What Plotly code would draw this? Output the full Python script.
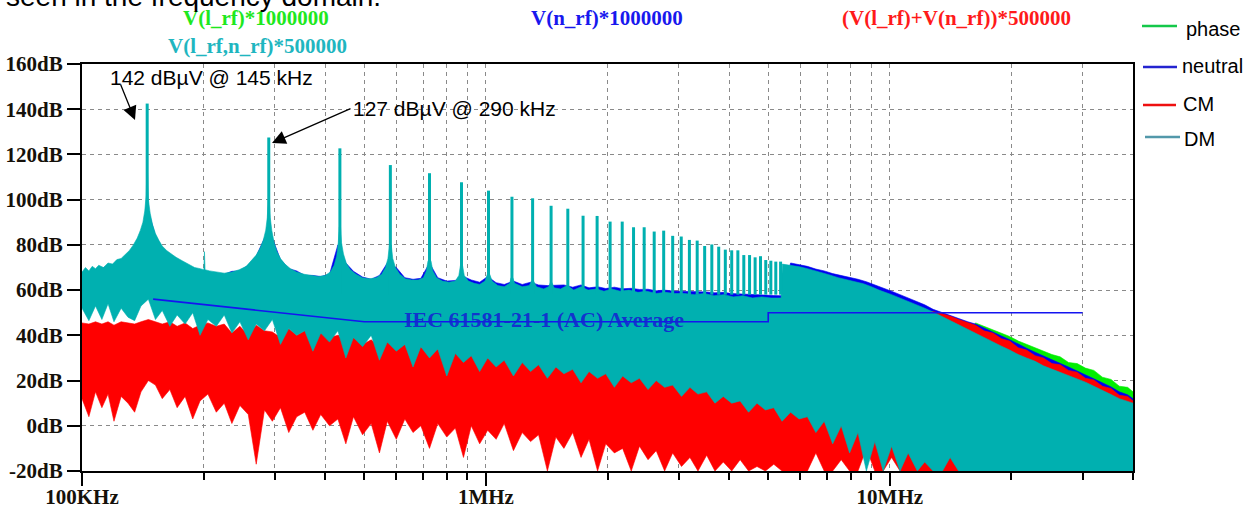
import math
import plotly.graph_objects as go

# ---------------- data (frequencies in kHz, levels in dB(uV)) ----------------
# shared frequency grid for the lower edges / side traces
GRID_KHZ = [
    100, 104, 108, 112, 116, 120, 125, 130, 135, 140,
    146, 152, 158, 165, 172, 180, 188, 196, 205, 215,
    225, 235, 246, 258, 270, 283, 296, 310, 325, 340,
    356, 373, 390, 410, 430, 450, 470, 495, 520, 545,
    570, 600, 630, 660, 690, 725, 760, 800, 840, 880,
    920, 965, 1010, 1060, 1110, 1170, 1230, 1290, 1350, 1420,
    1490, 1560, 1640, 1720, 1800, 1890, 1980, 2080, 2180, 2290,
    2400, 2520, 2640, 2770, 2900, 3050, 3200, 3350, 3520, 3690,
    3870, 4060, 4260, 4470, 4690, 4920, 5160, 5410, 5680, 5960,
    6250, 6560, 6880, 7220, 7580, 7950, 8340, 8750, 9180, 9630,
    10100, 10600, 11100, 11700, 12200, 12800, 13500, 14100, 14800, 15600,
    16300, 17100, 18000, 18900, 19800, 20800, 21800, 22900, 24000, 25200,
    26400, 27700, 29100, 30500, 32000, 33600, 35300, 37000, 38800, 40000,
]

# DM (V(l_rf,n_rf)) : upper envelope (floor + skirts)
DM_UPPER = [
    (100, 68), (102, 70), (104, 68.5), (106, 70.5), (108, 69.5), (110, 71), (113, 70),
    (116, 72), (119, 71.5), (122, 73.5), (125, 74), (128, 76), (131, 77.5), (134, 80),
    (137, 83), (139.5, 86.5), (141.5, 90), (143, 95), (144.2, 102), (144.7, 112),
    (145.3, 112), (146, 100), (147.5, 94), (149.5, 89), (152, 85), (155, 82), (158, 79.5),
    (162, 77.5), (166, 76), (171, 74.5), (177, 73), (183, 71.5), (190, 70), (196, 69.5),
    (200.3, 69), (201, 77), (201.7, 69), (207, 68.5), (215, 68), (225, 67.5), (235, 68),
    (245, 69), (255, 70.5), (263, 73), (270, 75.5), (276, 78.5), (281, 82), (285, 86.5),
    (287.5, 92), (289.2, 100), (290.8, 100), (292.5, 92), (295, 86.5), (299, 81), (304, 77),
    (310, 74), (318, 71.5), (328, 69.5), (340, 68), (355, 67), (370, 66.5), (385, 66),
    (400, 66.5), (412, 68), (421, 71), (427, 75), (431, 81), (433.5, 88), (436.5, 88),
    (439, 81), (444, 76), (451, 72), (462, 69), (477, 67), (495, 65.5), (515, 65),
    (535, 65.5), (552, 67), (564, 70), (572, 74), (577, 80), (583, 80), (588, 74),
    (597, 70), (612, 67), (632, 65), (655, 64.5), (680, 64.5), (700, 65.5), (712, 68.5),
    (719, 73), (731, 73), (739, 68.5), (755, 65.5), (780, 64), (810, 63.5), (840, 64),
    (857, 66.5), (865, 71), (875, 71), (884, 66.5), (905, 64), (935, 63), (965, 62.5),
    (995, 64), (1008, 67), (1022, 67), (1036, 64), (1070, 62), (1110, 61.5), (1145, 63),
    (1154, 65.5), (1166, 65.5), (1178, 63), (1230, 61.5), (1280, 62), (1298, 64),
    (1312, 64), (1335, 61.5), (1390, 60.5), (1430, 61.5), (1445, 63.5), (1456, 63.5),
    (1475, 61), (1530, 60.5), (1590, 62), (1650, 60), (1720, 61.5), (1790, 60),
    (1880, 60.5), (1960, 59.5), (2050, 60.5), (2150, 59.5), (2260, 60), (2380, 59),
    (2500, 59.5), (2640, 58.5), (2780, 59), (2930, 58.5), (3100, 58.5), (3280, 58),
    (3470, 58.5), (3670, 57.5), (3880, 58), (4100, 57), (4330, 57.5), (4570, 56.5),
    (4820, 57), (5080, 56.5), (5380, 56.5), (5420, 71.5), (5700, 71), (5980, 70.3),
    (6250, 69.5), (6440, 68.9), (6750, 67.8), (7060, 66.8), (7450, 65.5), (7830, 64.5),
    (8200, 63.8), (8600, 62.8), (9000, 61.5), (9400, 60), (10100, 58), (10600, 56.5),
    (11100, 55), (11700, 53.5), (12200, 52), (12800, 50.3), (13500, 48.2), (14100, 46.5),
    (14800, 44.5), (15600, 42.5), (16300, 41), (17100, 39), (18000, 37), (18900, 35.2),
    (19800, 33.5), (20800, 31.5), (21800, 30), (22900, 28.5), (24000, 26.5), (25200, 25),
    (26400, 23.7), (27700, 22.3), (29100, 20.8), (30500, 19.3), (32000, 17.5),
    (33600, 15.8), (35300, 13.8), (37000, 12), (38800, 10.8), (40000, 10),
]

DM_LOWER = [
    52, 46.5, 53, 47, 54, 46, 52, 48, 46.5, 53,
    56, 47, 51, 44, 49, 45, 50, 40, 47, 44,
    49, 41, 46, 38, 45, 42, 47, 36, 43, 40,
    42, 33, 41, 37, 42, 30, 39, 35, 40, 29,
    37, 33, 36, 26, 35, 30, 34, 22, 32, 28,
    31, 24, 30, 26, 29, 22, 28, 24, 27, 21,
    26, 23, 25, 19, 24, 21, 23, 17, 22, 19,
    21, 16, 20, 17, 18, 13, 17, 14, 15, 10,
    13, 10, 11, 6, 10, 7, 8, 2, 6, 3,
    4, -3, 2, -8, 0, -12, -3, -20, -7, -20,
    -9, -20, -12, -20, -16, -20, -20, -14, -20, -20,
    -20, -20, -20, -20, -20, -20, -20, -20, -20, -20,
    -20, -20, -20, -20, -20, -20, -20, -20, -20, -20,
]

# harmonics of the 145 kHz switching frequency (DM peaks)
HARM_KHZ = [145, 290, 435, 580, 725, 870, 1015, 1160, 1305, 1450, 1595, 1740, 1885,
            2030, 2175, 2320, 2465, 2610, 2755, 2900, 3045, 3190, 3335, 3480, 3625,
            3770, 3915, 4060, 4205, 4350, 4495, 4640, 4785, 4930, 5075, 5220, 5365]
HARM_DB = [142.5, 127.5, 122.7, 115.3, 111.7, 107.7, 104, 101.3, 100.6, 97.3, 96, 92.9,
           92.8, 90.3, 90.3, 87.8, 87.8, 85.9, 86.3, 84, 83.7, 82.2, 81.9, 79.5, 80.2,
           79.2, 77.9, 77.6, 77.6, 75.5, 75.5, 74.5, 75, 73.3, 73, 72.6, 72.6]

# CM ((V(l_rf)+V(n_rf))/2)
CM_UPPER = [
    45.5, 45, 46, 45, 46, 44.5, 46, 45.5, 45, 46,
    47, 46, 45, 46, 44, 45.5, 43, 44.5, 45.5, 44,
    45, 41, 44, 40, 44.5, 42, 41.5, 39, 43, 40,
    42, 38, 41, 39, 40, 37, 39, 36, 38, 35,
    37, 35, 36, 33, 35, 32, 34, 31, 33, 30,
    32, 29, 30, 28, 30, 26, 29, 27, 28, 25,
    27, 25, 26, 23, 25, 22, 24, 21, 23, 20,
    22, 19, 21, 18, 20, 16, 19, 15, 17, 13,
    16, 12, 14, 10, 13, 9, 11, 8, 12, 10,
    40, 40, 42, 42, 44, 44, 45, 46, 47, 48,
    50, 50, 50.5, 50.5, 50.5, 50.5, 49.5, 48.5, 47, 45.5,
    44.5, 42, 41, 38.5, 37.5, 34.5, 33.5, 31, 30, 27.5,
    27, 24.5, 23.7, 21, 20.3, 17.5, 16.5, 13.5, 13, 11,
]
CM_LOWER = [
    12, 4, 15, 8, 14, 2, 13, 10, 6, 15,
    20, 18, 12, 16, 8, 13, 3, 11, 14, 6,
    10, 1, 9, 5, -17, 7, 2, 8, -3, 4,
    6, -2, 5, 0, 3, -8, 4, -4, 1, -12,
    2, -6, 3, -3, 0, -10, 1, -5, -1, -14,
    0, -8, -2, -6, 1, -11, -3, -7, -4, -20,
    -5, -10, -3, -14, -6, -20, -8, -12, -10, -20,
    -9, -15, -11, -20, -12, -18, -14, -20, -13, -20,
    -16, -20, -15, -20, -18, -20, -17, -20, -20, -20,
    -20, -12, -20, -20, -15, -20, -20, -10, -20, -20,
    -14, -20, -20, -20, -20, -20, -20, -20, -20, -20,
    -20, -20, -20, -20, -20, -20, -20, -20, -20, -20,
    -20, -20, -20, -20, -20, -20, -20, -20, -20, -20,
]

# neutral V(n_rf) upper envelope
NE_UPPER = [
    67, 68, 69, 69.5, 71, 71, 73, 76, 79, 85,
    95, 84, 78.5, 75.5, 73.5, 71.5, 69.8, 69, 68, 67.5,
    67, 68.3, 68.5, 71, 75, 83, 83, 73.5, 69.5, 68.5,
    66.5, 66.5, 66, 67, 80, 72, 68.3, 65.8, 64.8, 66.5,
    72, 70, 65.5, 64.8, 65.2, 72, 65.5, 64, 64.3, 66,
    64.5, 63.5, 66, 63.3, 62.5, 64, 62.5, 63.5, 62.3, 62,
    62, 62.3, 61.3, 62.3, 61, 61.5, 60.7, 61.3, 60.6, 60.8,
    60.3, 60.4, 59.7, 60, 59.6, 59.5, 59.3, 59.4, 59.2, 58.8,
    59, 58.5, 58.4, 58, 58, 57.8, 57.6, 57.5, 72, 71.3,
    70.5, 69.3, 68.5, 67.3, 66.5, 65.5, 64.8, 63.7, 62.4, 61,
    59.5, 58, 56.5, 55, 53.5, 51.5, 50, 48.5, 47.3, 46,
    45, 43.2, 41.5, 39.7, 38.1, 36, 34.3, 32.5, 30.8, 29,
    27.6, 26, 24.3, 22.5, 20.9, 19, 17.2, 15, 13.7, 12,
]

# phase V(l_rf) upper envelope
PH_UPPER = [
    65, 66, 66, 67, 68, 68, 70, 72, 75, 80,
    90, 80, 76, 73, 71, 69, 67, 66, 65, 65,
    64, 65, 66, 68, 72, 80, 80, 70, 67, 65,
    64, 63, 63, 64, 76, 69, 65, 63, 62, 63,
    68, 67, 62, 62, 62, 69, 62, 61, 61, 63,
    61, 60, 63, 60, 59, 60, 59, 60, 59, 59,
    59, 59, 58, 59, 58, 58, 57, 58, 57, 57,
    57, 57, 56, 56, 56, 56, 55, 55, 55, 55,
    55, 54, 54, 54, 54, 54, 53, 54, 68, 67,
    66, 65.5, 64.5, 63.5, 62.5, 61.5, 60.5, 59.5, 58, 56.5,
    55.5, 54, 52.5, 51, 49.5, 48, 46, 44.5, 42.5, 40.5,
    45.5, 44, 42.5, 41, 39.5, 37.5, 36, 34.5, 33, 31.5,
    30.5, 28, 27.5, 25.5, 24.5, 21.5, 20.5, 17.5, 17, 15,
]

# lower edge of the phase / neutral traces (hidden under DM)
PH_NE_LOWER = [
    59, 52, 60, 54, 61, 51, 59, 55, 53, 60,
    62, 54, 58, 48, 56, 51, 57, 44, 54, 50,
    56, 46, 53, 42, 51, 48, 54, 40, 49, 45,
    48, 37, 46, 43, 47, 34, 44, 40, 45, 33,
    42, 38, 41, 30, 40, 35, 39, 26, 37, 33,
    36, 28, 35, 31, 34, 26, 33, 29, 32, 25,
    31, 28, 30, 23, 29, 26, 28, 21, 27, 24,
    26, 20, 25, 22, 23, 17, 22, 19, 20, 14,
    18, 15, 16, 10, 15, 12, 13, 6, 11, 8,
    9, 1, 7, -4, 5, -8, 2, -16, -2, -16,
    -5, -16, -8, -16, -12, -16, -16, -10, -16, -16,
    -16, -16, -16, -16, -16, -16, -16, -16, -16, -16,
    -16, -16, -16, -16, -16, -16, -16, -16, -16, -16,
]

# IEC 61581-21-1 (AC) average limit
LIM_KHZ = [150, 500, 5000, 5000, 30000]
LIM_DB = [56, 46, 46, 50, 50]

Y_TICKS = [-20, 0, 20, 40, 60, 80, 100, 120, 140, 160]
X_MAJOR = [100, 1000, 10000]
X_MAJOR_TEXT = ["100KHz", "1MHz", "10MHz"]
X_MINOR = [200, 300, 400, 500, 600, 700, 800, 900,
           2000, 3000, 4000, 5000, 6000, 7000, 8000, 9000,
           20000, 30000, 40000]

for arr in (DM_LOWER, CM_UPPER, CM_LOWER, NE_UPPER, PH_UPPER, PH_NE_LOWER):
    assert len(arr) == len(GRID_KHZ), len(arr)

# ---------------- figure ----------------
W, H = 1251, 513
L, R, T, B = 82, 1133, 64, 471


def px(x):
    return (x - L) / (R - L)


def py(y):
    return (B - y) / (B - T)


def band(fu, vu, fl, vl):
    return list(fu) + list(reversed(fl)), list(vu) + list(reversed(vl))


TEAL = "#00b0b0"
fig = go.Figure()

dm_f = [p[0] for p in DM_UPPER]
dm_v = [p[1] for p in DM_UPPER]

layers = [
    ("phase", "#00ee00", GRID_KHZ, PH_UPPER, PH_NE_LOWER),
    ("neutral", "#0000f0", GRID_KHZ, NE_UPPER, PH_NE_LOWER),
    ("CM", "#ff0000", GRID_KHZ, CM_UPPER, CM_LOWER),
]
for name, col, f, up, lo in layers:
    x, y = band(f, up, f, lo)
    fig.add_trace(go.Scatter(x=x, y=y, mode="lines", fill="toself", fillcolor=col,
                             line=dict(color=col, width=0.6), name=name,
                             hoverinfo="skip", showlegend=False))

x, y = band(dm_f, dm_v, GRID_KHZ, DM_LOWER)
fig.add_trace(go.Scatter(x=x, y=y, mode="lines", fill="toself", fillcolor=TEAL,
                         line=dict(color=TEAL, width=0.6), name="DM",
                         hoverinfo="skip", showlegend=False))

STEM_BASE = 58
sx, sy = [], []
for f, p in zip(HARM_KHZ, HARM_DB):
    sx += [f, f, None]
    sy += [STEM_BASE, p, None]
fig.add_trace(go.Scatter(x=sx, y=sy, mode="lines", line=dict(color=TEAL, width=3),
                         hoverinfo="skip", showlegend=False))

fig.add_trace(go.Scatter(x=LIM_KHZ, y=LIM_DB, mode="lines",
                         line=dict(color="#1414f0", width=1.6),
                         hoverinfo="skip", showlegend=False))

SERIF = "Liberation Serif"
SANS = "Liberation Sans"
grid = dict(showgrid=True, gridcolor="#8a8a8a", gridwidth=1.3, griddash="4px,4px")

fig.update_xaxes(
    type="log", range=[2, math.log10(40000)], automargin=False,
    tickvals=X_MAJOR, ticktext=X_MAJOR_TEXT, ticklabelstandoff=-7,
    ticks="outside", ticklen=13, tickwidth=2, tickcolor="black",
    showline=True, linecolor="black", linewidth=2, mirror=True, zeroline=False,
    tickfont=dict(family=SERIF, size=21, color="#15110a", weight="bold"),
    minor=dict(tickvals=X_MINOR, ticks="outside", ticklen=7, tickwidth=2,
               tickcolor="black", **grid),
    **grid,
)
fig.update_yaxes(
    range=[-20, 160], automargin=False,
    tickvals=Y_TICKS, ticktext=[f"{v}dB" for v in Y_TICKS],
    ticks="outside", ticklen=13, tickwidth=2, tickcolor="black",
    showline=True, linecolor="black", linewidth=2, mirror=True, zeroline=False,
    tickfont=dict(family=SERIF, size=21, color="#15110a", weight="bold"),
    **grid,
)

ann = []
# header expressions
hdr = [
    ("V(l_rf)*1000000", "#1ee81e", 256, 18),
    ("V(l_rf,n_rf)*500000", "#1fb6c0", 257, 46),
    ("V(n_rf)*1000000", "#1818ee", 607, 18),
    ("(V(l_rf)+V(n_rf))*500000", "#ff1a1a", 956, 18),
]
for t, c, xx, yy in hdr:
    ann.append(dict(text=t, x=px(xx), y=py(yy), xref="paper", yref="paper",
                    xanchor="center", yanchor="middle", showarrow=False,
                    font=dict(family=SERIF, size=21, color=c, weight="bold")))

# clipped document text at the very top
ann.append(dict(text="seen in the frequency domain.", x=px(4), y=py(14), xref="paper",
                yref="paper", xanchor="left", yanchor="bottom", showarrow=False,
                font=dict(family=SANS, size=28, color="black")))

# peak callouts
ann.append(dict(text="142 dBµV @ 145 kHz", x=px(211), y=py(78), xref="paper", yref="paper",
                xanchor="center", yanchor="middle", showarrow=False,
                font=dict(family=SANS, size=21, color="black")))
ann.append(dict(text="127 dBµV @ 290 kHz", x=px(454), y=py(108), xref="paper", yref="paper",
                xanchor="center", yanchor="middle", showarrow=False,
                font=dict(family=SANS, size=21, color="black")))
ann.append(dict(text="", x=px(135), y=py(120), xref="paper", yref="paper",
                ax=120 - 135, ay=83 - 120, showarrow=True, arrowhead=2,
                arrowsize=2.1, arrowwidth=1.3, arrowcolor="black"))
ann.append(dict(text="", x=px(272), y=py(143), xref="paper", yref="paper",
                ax=352 - 272, ay=108 - 143, showarrow=True, arrowhead=2,
                arrowsize=2.1, arrowwidth=1.3, arrowcolor="black"))

# limit label
ann.append(dict(text="IEC 61581-21-1 (AC) Average", x=px(544), y=py(319), xref="paper",
                yref="paper", xanchor="center", yanchor="middle", showarrow=False,
                font=dict(family=SERIF, size=22, color="rgba(20,36,210,0.9)", weight="bold")))

# legend (drawn manually)
shapes = []
legend = [
    ("phase", "#14c84a", 26, 29, 1142, 1177, 1184),
    ("neutral", "#2424d0", 67, 66, 1143, 1177, 1180),
    ("CM", "#ee1010", 105, 104, 1143, 1176, 1181),
    ("DM", "#5298aa", 137, 139, 1145, 1180, 1182),
]
for t, c, ly, ty, x0, x1, tx in legend:
    shapes.append(dict(type="line", xref="paper", yref="paper", x0=px(x0), x1=px(x1),
                       y0=py(ly), y1=py(ly), line=dict(color=c, width=2.5)))
    ann.append(dict(text=t, x=px(tx), y=py(ty), xref="paper", yref="paper",
                    xanchor="left", yanchor="middle", showarrow=False,
                    font=dict(family=SANS, size=20, color="black")))

fig.update_layout(
    width=W, height=H,
    margin=dict(l=L, r=W - R, t=T, b=H - B, pad=0, autoexpand=False),
    paper_bgcolor="white", plot_bgcolor="white",
    showlegend=False, annotations=ann, shapes=shapes,
)

fig.write_html("out.html")
